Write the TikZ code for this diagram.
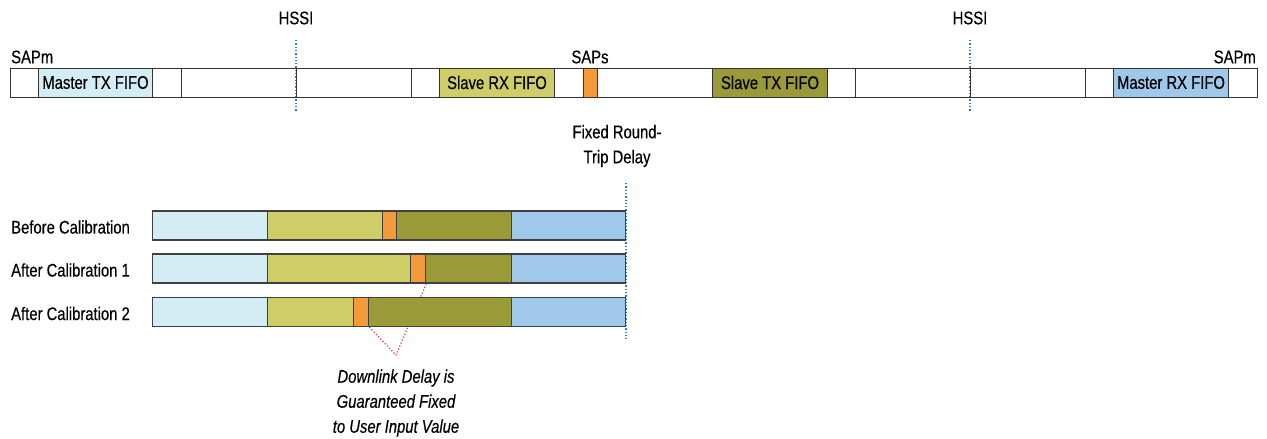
\documentclass[tikz,border=0pt]{standalone}
\usepackage{fontspec}
\setmainfont[FakeStretch=0.81, FakeBold=0.4]{Liberation Sans}
\usetikzlibrary{positioning, backgrounds}
\definecolor{mtxblue}{HTML}{D4ECF4}
\definecolor{srxyel}{HTML}{CFCD67}
\definecolor{sapor}{HTML}{F59A3B}
\definecolor{stxolive}{HTML}{9A9A38}
\definecolor{mrxblue}{HTML}{9FC8EA}
\definecolor{hssiblue}{HTML}{2F7DBE}
\definecolor{notered}{HTML}{E8303A}
\begin{document}
\begin{tikzpicture}[
  x=1pt, y=-1pt,
  font=\fontsize{18.3}{25}\selectfont,
  cell/.style={draw=black!80, line width=1pt, minimum height=29pt, inner sep=0pt, anchor=west},
  seg/.style={draw=black!75, line width=1.3pt, minimum height=29pt, inner sep=0pt, anchor=west},
  lbl/.style={inner sep=1pt},
  hssi/.style={hssiblue, dotted, line width=1.3pt},
  note/.style={notered, dotted, line width=1.2pt},
]
\useasboundingbox (0,0) rectangle (1267,439);

% ---- HSSI markers ----
\node[lbl] (hssiA) at (296,18) {HSSI};
\node[lbl] (hssiB) at (970,18) {HSSI};
\coordinate (hA1) at (296,40); \coordinate (hA2) at (296,112);
\coordinate (hB1) at (970,40); \coordinate (hB2) at (970,112);
\draw[hssi] (hA1) -- (hA2);
\draw[hssi] (hB1) -- (hB2);

% ---- link pipeline ----
\node[cell, minimum width=28pt] (c1) at (10,82.5) {};
\node[cell, minimum width=114pt, fill=mtxblue] (mtx) at (38,82.5) {Master TX FIFO};
\node[cell, minimum width=29pt] (c2) at (152,82.5) {};
\node[cell, minimum width=115pt] (c3) at (181,82.5) {};
\node[cell, minimum width=115pt] (c4) at (296,82.5) {};
\node[cell, minimum width=28pt] (c5) at (411,82.5) {};
\node[cell, minimum width=115pt, fill=srxyel] (srx) at (439,82.5) {Slave RX FIFO};
\node[cell, minimum width=29pt] (c6) at (554,82.5) {};
\node[cell, minimum width=14pt, fill=sapor] (saps) at (583,82.5) {};
\node[cell, minimum width=115pt] (c7) at (597,82.5) {};
\node[cell, minimum width=115pt, fill=stxolive] (stx) at (712,82.5) {Slave TX FIFO};
\node[cell, minimum width=28pt] (c8) at (827,82.5) {};
\node[cell, minimum width=115pt] (c9) at (855,82.5) {};
\node[cell, minimum width=115pt] (c10) at (970,82.5) {};
\node[cell, minimum width=28pt] (c11) at (1085,82.5) {};
\node[cell, minimum width=115pt, fill=mrxblue] (mrx) at (1113,82.5) {Master RX FIFO};
\node[cell, minimum width=29pt] (c12) at (1228,82.5) {};

\node[lbl, anchor=west] (sapmL) at (10,57) {SAPm};
\node[lbl] (sapsL) at (590,57) {SAPs};
\node[lbl, anchor=east] (sapmR) at (1257,57) {SAPm};

% ---- fixed round-trip delay ----
\node[lbl, align=center] (rtd) at (617,146) {Fixed Round-\\Trip Delay};
\coordinate (rt1) at (626,183); \coordinate (rt2) at (626,340);
\draw[hssi] (rt1) -- (rt2);

% ---- calibration rows ----
\foreach \r/\y/\a/\b/\txt in {bef/225.5/382/396/Before Calibration,
                               ac1/268.5/410/425/After Calibration 1,
                               ac2/312/353/368/After Calibration 2}{
  \pgfmathsetmacro{\wa}{\a-267}
  \pgfmathsetmacro{\wb}{\b-\a}
  \pgfmathsetmacro{\wc}{511-\b}
  \node[lbl, anchor=west] (\r-lbl) at (10,\y+1.5) {\txt};
  \node[seg, minimum width=115pt, fill=mtxblue] (\r-tx) at (152,\y) {};
  \node[seg, minimum width=\wa pt, fill=srxyel] (\r-rx) at (267,\y) {};
  \node[seg, minimum width=\wb pt, fill=sapor] (\r-sap) at (\a,\y) {};
  \node[seg, minimum width=\wc pt, fill=stxolive] (\r-stx) at (\b,\y) {};
  \node[seg, minimum width=114pt, fill=mrxblue] (\r-mrx) at (511,\y) {};
}

% ---- downlink note ----
\coordinate (dl) at (396,355);
\begin{scope}[on background layer]
  \draw[note] (ac1-sap.south east) -- (dl);
  \draw[note] (ac2-sap.south east) -- (dl);
\end{scope}
\node[lbl, align=center, font=\fontsize{18.3}{25}\selectfont\itshape] (dltxt) at (396,403)
  {Downlink Delay is\\Guaranteed Fixed\\to User Input Value};
\end{tikzpicture}
\end{document}
